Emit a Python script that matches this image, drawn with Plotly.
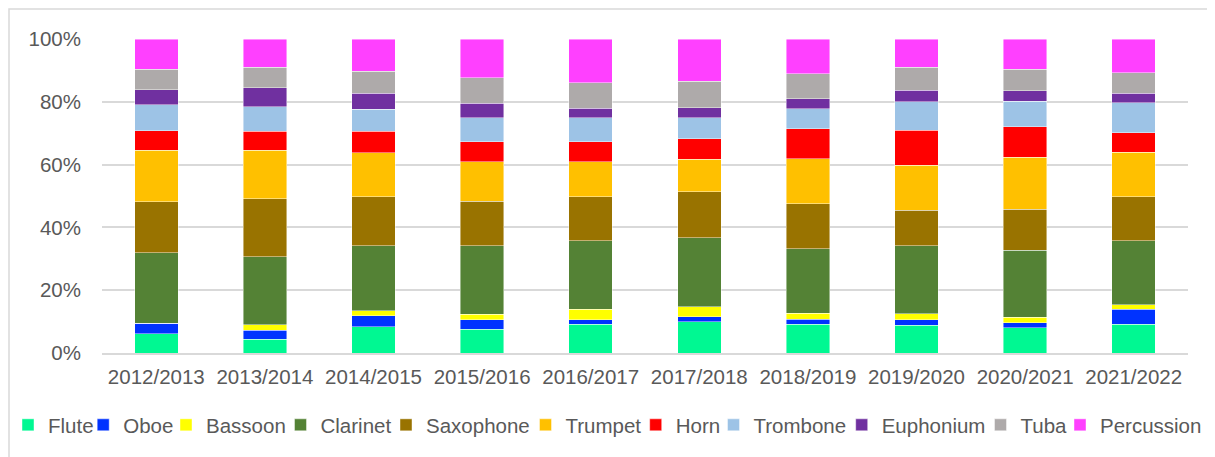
import plotly.graph_objects as go

years = ["2012/2013", "2013/2014", "2014/2015", "2015/2016", "2016/2017",
         "2017/2018", "2018/2019", "2019/2020", "2020/2021", "2021/2022"]

flute      = [6.2, 4.4, 8.4, 7.5, 9.2, 9.9, 9.2, 8.8, 8.1, 9.2]
oboe       = [3.2, 2.9, 3.4, 3.1, 1.4, 1.6, 1.6, 1.8, 1.5, 4.7]
bassoon    = [0.0, 1.7, 1.7, 1.7, 3.3, 3.3, 1.8, 1.9, 1.8, 1.5]
clarinet   = [22.6, 21.6, 20.7, 21.8, 21.9, 21.9, 20.6, 21.7, 21.3, 20.4]
saxophone  = [16.1, 18.5, 15.5, 14.3, 14.0, 14.7, 14.4, 11.2, 13.1, 14.0]
trumpet    = [16.4, 15.4, 14.1, 12.5, 11.1, 10.3, 14.2, 14.4, 16.6, 14.2]
horn       = [6.3, 6.2, 6.9, 6.3, 6.3, 6.5, 9.6, 11.1, 9.7, 6.2]
trombone   = [8.2, 7.7, 6.9, 7.8, 7.8, 6.7, 6.4, 9.1, 8.1, 9.5]
euphonium  = [4.8, 6.1, 5.1, 4.6, 3.0, 3.2, 3.1, 3.7, 3.3, 3.0]
tuba       = [6.5, 6.5, 7.1, 8.1, 8.1, 8.5, 8.0, 7.3, 6.8, 6.5]
percussion = [9.7, 9.0, 10.2, 12.3, 13.9, 13.4, 11.1, 9.0, 9.7, 10.8]

names = ["Flute", "Oboe", "Bassoon", "Clarinet", "Saxophone", "Trumpet",
         "Horn", "Trombone", "Euphonium", "Tuba", "Percussion"]
series = [flute, oboe, bassoon, clarinet, saxophone, trumpet,
          horn, trombone, euphonium, tuba, percussion]
colors = ["#00F892", "#0033FF", "#FFFF00", "#548235", "#997300", "#FFC000",
          "#FF0000", "#9DC3E6", "#7030A0", "#AEAAAA", "#FF40FF"]

# legend text start positions (window px) in the reference
legend_text_x = [92.7, 160.7, 234, 339, 435, 565, 665.7, 734, 852.7, 982, 1052]

FONT = "Liberation Sans, Arial, sans-serif"
GREY = "#595959"
OFF = 8                      # page body margin
W, H = 1215 - OFF, 457 - OFF
ML, MT = 102 - OFF, 39 - OFF
MR = W - (1188 - OFF)
MB = H - (353 - OFF)

fig = go.Figure()
for i, (n, s, c) in enumerate(zip(names, series, colors)):
    lg = "legend" if i == 0 else f"legend{i+1}"
    fig.add_trace(go.Bar(
        x=years, y=s, name=n, legend=lg,
        marker=dict(color=c, line=dict(color="rgba(255,255,255,0.55)", width=0.8)),
    ))

layout_legends = {}
for i in range(len(names)):
    key = "legend" if i == 0 else f"legend{i+1}"
    start = legend_text_x[i] + 9.5 * i - 47 - OFF
    layout_legends[key] = dict(
        xref="container", yref="container",
        x=(start - 40) / W, xanchor="left",
        y=1 - (426 - OFF - 1) / H, yanchor="middle",
        orientation="h", bgcolor="rgba(0,0,0,0)", borderwidth=0,
        font=dict(family=FONT, size=20.5, color=GREY),
        itemwidth=30,
    )

fig.update_layout(
    width=W, height=H,
    barmode="stack", barnorm="percent", bargap=0.6,
    plot_bgcolor="white", paper_bgcolor="white",
    margin=dict(l=ML, r=MR, t=MT, b=MB),
    font=dict(family=FONT, size=20.5, color=GREY),
    showlegend=True,
    **layout_legends,
)

fig.update_yaxes(
    range=[0, 100], dtick=20, ticksuffix="%",
    showgrid=True, gridcolor="#D9D9D9", gridwidth=1.5,
    zeroline=False, showline=False, ticks="",
    tickfont=dict(family=FONT, size=20.5, color=GREY),
    ticklabelstandoff=20,
)
fig.update_xaxes(
    showline=True, linecolor="#D9D9D9", linewidth=1.5,
    ticks="", tickfont=dict(family=FONT, size=20.5, color=GREY),
    ticklabelstandoff=5,
)

# chart-area border
pw = W - ML - MR
ph = H - MT - MB
fig.add_shape(type="rect", xref="paper", yref="paper",
              x0=(1 - ML) / pw, x1=1.2, y0=-0.6, y1=1 + (MT - 1) / ph,
              line=dict(color="#D9D9D9", width=1.5), fillcolor="rgba(0,0,0,0)",
              layer="below")

fig.write_html("out.html")
